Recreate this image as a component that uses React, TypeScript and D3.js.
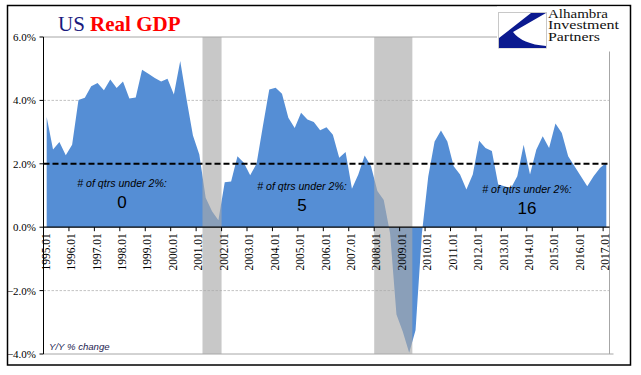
import React from "react";
import * as d3 from "d3";

// ---- Data ----
const startYear = 1995;
// Real GDP, Y/Y % change, quarterly 1995Q1 .. 2017Q1
const gdpYoY = [
  3.48, 2.45, 2.69, 2.27,
  2.6, 4.01, 4.08, 4.45,
  4.55, 4.32, 4.66, 4.39,
  4.6, 4.06, 4.09, 4.97,
  4.84, 4.71, 4.6, 4.68,
  4.19, 5.24, 4.03, 2.89,
  2.29, 0.93, 0.5, 0.22,
  1.42, 1.44, 2.24, 2.03,
  1.64, 2.0, 3.19, 4.34,
  4.4, 4.21, 3.45, 3.13,
  3.61, 3.4, 3.32, 3.06,
  3.15, 2.92, 2.19, 2.37,
  1.21, 1.66, 2.26, 1.92,
  1.14, 0.86, -0.2, -2.75,
  -3.3, -3.96, -3.25, -0.2,
  1.6, 2.7, 3.05, 2.7,
  1.92, 1.66, 1.19, 1.66,
  2.73, 2.5, 2.4, 1.35,
  1.29, 1.23, 1.61, 2.6,
  1.66, 2.45, 2.87, 2.5,
  3.27, 2.97, 2.24, 1.92,
  1.61, 1.29, 1.61, 1.87,
  2.03,
];
const categories = gdpYoY.map(
  (_, i) => `${startYear + Math.floor(i / 4)}.0${(i % 4) + 1}`
);
const yTicks = [-4, -2, 0, 2, 4, 6];
const gridValues = [4, -2];
const threshold = 2;
const recessions = [
  { start: "2001.02", end: "2001.04" },
  { start: "2008.01", end: "2009.02" },
];
const annotationCounts = ["0", "5", "16"];
const annotationLabel = "# of qtrs under 2%:";
const titleParts = ["US", "Real GDP"];
const logoLines = ["Alhambra", "Investment", "Partners"];
const unitLabel = "Y/Y % change";

// ---- Layout ----
const W = 641;
const H = 375;
const plot = { left: 43.5, right: 609.5, top: 37, bottom: 354 };
const annotationAnchors = [
  { cx: 122, y: 187 },
  { cx: 302, y: 190 },
  { cx: 527, y: 193 },
];
const logoWidths = [60, 71, 52];

export default function App() {
  const x = d3
    .scaleBand<string>()
    .domain(categories)
    .range([plot.left, plot.right])
    .padding(0);
  const bw = x.bandwidth();
  const cx = (c: string) => (x(c) as number) + bw / 2;
  const y = d3.scaleLinear().domain([-4, 6]).range([plot.bottom, plot.top]);

  const area = d3
    .area<number>()
    .x((_, i) => cx(categories[i]))
    .y0(y(0))
    .y1((d) => y(d));

  const fmt = d3.format(".1f");
  const serif = "'Liberation Serif', 'Times New Roman', serif";
  const sans = "'Liberation Sans', Arial, sans-serif";

  const q1Cats = categories.filter((c) => c.endsWith(".01"));

  return (
    <svg
      width={W}
      height={H}
      style={{ position: "absolute", left: 0, top: 0, background: "#fff" }}
    >
      <rect x={0} y={0} width={W} height={H} fill="#fff" />
      {/* outer frame */}
      <rect x={7.5} y={5.5} width={623} height={359.5} fill="none" stroke="#000" strokeWidth={1.5} />

      {/* gridlines */}
      {gridValues.map((v) => (
        <line
          key={v}
          x1={plot.left}
          x2={plot.right}
          y1={y(v)}
          y2={y(v)}
          stroke="#b4b4b4"
          strokeWidth={0.8}
          strokeDasharray="2.5,1.5"
        />
      ))}
      {/* plot border */}
      <line x1={plot.left} x2={plot.right} y1={plot.top} y2={plot.top} stroke="#a6a6a6" strokeWidth={1} />
      <line x1={plot.right} x2={plot.right} y1={plot.top} y2={plot.bottom} stroke="#a6a6a6" strokeWidth={1} />
      <line x1={plot.left} x2={plot.right + 4} y1={plot.bottom} y2={plot.bottom} stroke="#a6a6a6" strokeWidth={1} />

      {/* area */}
      <path d={area(gdpYoY) || ""} fill="#558ed5" />

      {/* recession bands */}
      {recessions.map((r) => {
        const x0 = x(r.start) as number;
        const x1 = (x(r.end) as number) + bw;
        return (
          <rect
            key={r.start}
            x={x0}
            y={plot.top}
            width={x1 - x0}
            height={plot.bottom - plot.top}
            fill="rgb(168,168,168)"
            fillOpacity={0.635}
          />
        );
      })}

      {/* 2% threshold */}
      <line
        x1={plot.left}
        x2={plot.right}
        y1={y(threshold)}
        y2={y(threshold)}
        stroke="#000"
        strokeWidth={2}
        strokeDasharray="6,3"
      />

      {/* y axis */}
      <line x1={plot.left} x2={plot.left} y1={plot.top} y2={plot.bottom} stroke="#000" strokeWidth={1} />
      {yTicks.map((t) => (
        <g key={t}>
          <line x1={plot.left - 4} x2={plot.left} y1={y(t)} y2={y(t)} stroke="#000" strokeWidth={1} />
          <text
            x={36}
            y={y(t) + 4}
            textAnchor="end"
            fontFamily={serif}
            fontSize={11}
            fill="#000"
          >
            {fmt(t) + "%"}
          </text>
        </g>
      ))}

      {/* x axis at 0 */}
      <line x1={plot.left} x2={plot.right} y1={y(0)} y2={y(0)} stroke="#000" strokeWidth={1.2} />
      {q1Cats.map((c) => {
        const bx = x(c) as number;
        return (
          <g key={c}>
            <line x1={bx} x2={bx} y1={y(0)} y2={y(0) + 4} stroke="#000" strokeWidth={1} />
            <text
              transform={`translate(${cx(c) - 1},${y(0) + 6}) rotate(-90)`}
              textAnchor="end"
              dy="0.35em"
              fontFamily={serif}
              fontSize={11.5}
              fill="#000"
            >
              {c}
            </text>
          </g>
        );
      })}

      {/* annotations */}
      {annotationCounts.map((n, i) => (
        <g key={i}>
          <text
            x={annotationAnchors[i].cx}
            y={annotationAnchors[i].y}
            textAnchor="middle"
            fontFamily={sans}
            fontStyle="italic"
            fontSize={10.6}
            fill="#000"
          >
            {annotationLabel}
          </text>
          <text
            x={annotationAnchors[i].cx}
            y={annotationAnchors[i].y + 21}
            textAnchor="middle"
            fontFamily={sans}
            fontSize={17}
            fill="#000"
          >
            {n}
          </text>
        </g>
      ))}

      {/* unit label */}
      <text x={49} y={350} fontFamily={sans} fontStyle="italic" fontSize={9.6} fill="#1c1c50">
        {unitLabel}
      </text>

      {/* title */}
      <text x={58} y={31} fontFamily={serif} fontSize={21}>
        <tspan fill="#1a1a7e">{titleParts[0]}</tspan>
        <tspan fill="#ff0000" fontWeight="bold">{" " + titleParts[1]}</tspan>
      </text>

      {/* logo */}
      <rect x={497} y={6.5} width={132} height={45} fill="#fff" />
      <rect x={498.5} y={12.5} width={48} height={35.5} fill="#fff" stroke="#c8c8c8" strokeWidth={1} />
      <path
        d="M531 13 L546 13 L513 32 Q522 44 546 46 L546 48 L499 48 L499 38 Z"
        fill="#0b1a8f"
      />
      {logoLines.map((l, i) => (
        <text
          key={l}
          x={548}
          y={17.5 + i * 11.6}
          fontFamily={serif}
          fontSize={13.5}
          textLength={logoWidths[i]}
          lengthAdjust="spacingAndGlyphs"
          fill="#111"
        >
          {l}
        </text>
      ))}
    </svg>
  );
}
